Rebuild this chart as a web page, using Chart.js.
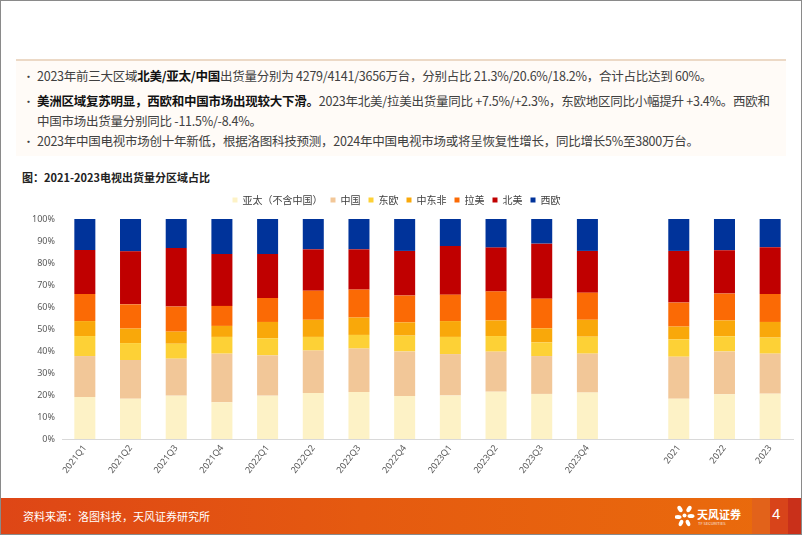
<!DOCTYPE html>
<html>
<head>
<meta charset="utf-8">
<script src="https://cdn.jsdelivr.net/npm/chart.js@4.4.1/dist/chart.umd.min.js"></script>
<style>
  html,body{margin:0;padding:0;}
  body{width:802px;height:535px;position:relative;overflow:hidden;background:#fff;font-family:"Noto Sans CJK SC","Noto Sans",sans-serif;}
  .frame{position:absolute;left:0;top:0;width:800px;height:533px;border:1px solid #8a8a8a;pointer-events:none;z-index:5;}
  .box{position:absolute;left:16px;top:59px;width:770px;height:95px;background:#fffbf7;border-top:2px solid #ecd9c6;}
  .ln{position:absolute;left:21px;white-space:nowrap;font-size:12.5px;color:#404040;letter-spacing:-0.25px;}
  .ln b{color:#111;font-weight:700;}
  .bul{position:absolute;left:7px;font-size:11px;color:#404040;}
  .title{position:absolute;left:22px;top:169px;font-size:11px;font-weight:700;color:#222;white-space:nowrap;}
  #wrap{position:absolute;left:0;top:185px;width:802px;height:305px;}
  .foot{position:absolute;left:0;top:498px;width:802px;height:37px;background:linear-gradient(90deg,#de4616 0%,#e55a10 45%,#ea6c0c 100%);}
  .foot .src{position:absolute;left:23px;top:10px;color:#fff;font-size:11px;white-space:nowrap;}
  .sq{position:absolute;top:0;height:37px;}
  .pg{position:absolute;left:772px;top:7px;color:#fff;font-size:15px;font-family:"Liberation Sans",sans-serif;}
  .logo{position:absolute;left:675px;top:7px;color:#fff;}
  .logo .cn{position:absolute;left:22px;top:1px;font-size:11px;font-weight:700;white-space:nowrap;}
  .logo .en{position:absolute;left:23px;top:15px;font-size:4px;white-space:nowrap;opacity:0.85;}
</style>
</head>
<body>
<div class="frame"></div>
<div class="box">
  <div class="bul" style="top:7px">•</div>
  <div class="ln" style="top:5px">2023年前三大区域<b>北美/亚太/中国</b>出货量分别为 4279/4141/3656万台，分别占比 21.3%/20.6%/18.2%，合计占比达到 60%。</div>
  <div class="bul" style="top:32px">•</div>
  <div class="ln" style="top:30px"><b>美洲区域复苏明显，西欧和中国市场出现较大下滑。</b>2023年北美/拉美出货量同比 +7.5%/+2.3%，东欧地区同比小幅提升 +3.4%。西欧和</div>
  <div class="ln" style="top:50px">中国市场出货量分别同比 -11.5%/-8.4%。</div>
  <div class="bul" style="top:72px">•</div>
  <div class="ln" style="top:70px">2023年中国电视市场创十年新低，根据洛图科技预测，2024年中国电视市场或将呈恢复性增长，同比增长5%至3800万台。</div>
</div>
<div class="title">图：2021-2023电视出货量分区域占比</div>
<div id="wrap"><canvas id="c"></canvas></div>
<div class="foot">
  <div class="src">资料来源：洛图科技，天风证券研究所</div>
  <div class="logo">
    <svg width="20" height="22" viewBox="0 0 20 22">
      <ellipse cx="5" cy="4" rx="2.2" ry="3.5" fill="#fff" transform="rotate(-30 5 4)"/>
      <ellipse cx="14" cy="4" rx="2.2" ry="3.5" fill="#fff" transform="rotate(30 14 4)"/>
      <ellipse cx="3" cy="12" rx="3.5" ry="2" fill="#fff"/>
      <ellipse cx="16" cy="11" rx="3.5" ry="2" fill="#fff"/>
      <ellipse cx="6" cy="18" rx="2" ry="3.3" fill="#fff" transform="rotate(25 6 18)"/>
      <ellipse cx="13" cy="18" rx="2" ry="3.3" fill="#fff" transform="rotate(-25 13 18)"/>
      <circle cx="9.5" cy="10.5" r="2" fill="#fff"/>
    </svg>
    <div class="cn">天风证券</div>
    <div class="en">TF SECURITIES</div>
  </div>
  <div class="sq" style="left:752px;width:18px;background:#e2621a;"></div>
  <div class="sq" style="left:770px;width:18px;background:#d8441a;"></div>
  <div class="sq" style="left:788px;width:14px;background:#c9301a;"></div>
  <div class="pg">4</div>
</div>
<script>
const categories = ['2021Q1','2021Q2','2021Q3','2021Q4','2022Q1','2022Q2','2022Q3','2022Q4','2023Q1','2023Q2','2023Q3','2023Q4','','2021','2022','2023'];
const seriesNames = ['亚太（不含中国）','中国','东欧','中东非','拉美','北美','西欧'];
const asiaPacific = [19.1,18.3,19.7,16.7,19.7,20.9,21.4,19.5,19.8,21.5,20.5,21.1,null,18.3,20.3,20.6];
const china       = [18.6,17.6,16.8,22.1,18.3,19.3,19.7,20.3,18.8,18.2,17.2,17.7,null,19.1,19.5,18.2];
const eastEurope  = [9.1,7.7,6.8,7.6,7.8,6.2,6.2,7.2,7.8,7.1,6.2,7.7,null,7.9,6.9,7.3];
const meAfrica    = [6.8,6.6,5.5,5.0,7.4,7.8,7.9,6.0,7.2,7.1,6.4,7.7,null,5.8,7.2,7.1];
const latinAm     = [12.3,11.0,11.4,9.1,10.9,13.2,12.7,12.2,12.0,13.2,13.5,12.3,null,10.9,12.2,12.7];
const northAm     = [20.0,24.1,26.6,23.6,20.0,18.8,18.3,20.3,22.1,19.9,25.0,19.0,null,23.5,19.7,21.3];
const westEurope  = [14.1,14.7,13.2,15.9,15.9,13.8,13.8,14.5,12.3,13.0,11.2,14.5,null,14.5,14.2,12.8];
const yTicks = [0,10,20,30,40,50,60,70,80,90,100];

const colors = ['#fdf2c6','#f2c798','#fdd136','#f9a80a','#fb6a05','#c00000','#00339a'];
const seriesValues = [asiaPacific,china,eastEurope,meAfrica,latinAm,northAm,westEurope];

const legendPad = {
  id:'legendPad',
  beforeInit(chart){
    const fit = chart.legend.fit;
    chart.legend.fit = function(){ fit.call(this); this.height += 4; };
  }
};

new Chart(document.getElementById('c'), {
  type:'bar',
  data:{
    labels:categories,
    datasets:seriesNames.map((n,i)=>({label:n,data:seriesValues[i],backgroundColor:colors[i],borderWidth:0,categoryPercentage:1,barPercentage:0.46}))
  },
  plugins:[legendPad],
  options:{
    responsive:true,maintainAspectRatio:false,animation:false,
    layout:{padding:{left:0,right:9,top:2,bottom:0}},
    plugins:{
      legend:{position:'top',labels:{boxWidth:5,boxHeight:5,padding:8,color:'#404040',font:{size:10,family:'"Noto Sans CJK SC",sans-serif'}}},
      tooltip:{enabled:false}
    },
    scales:{
      x:{stacked:true,grid:{display:false,drawTicks:false},border:{display:true,color:'#d9d9d9'},
         ticks:{color:'#595959',font:{size:9,family:'"Noto Sans",sans-serif'},minRotation:52,maxRotation:52,autoSkip:false,padding:4},
         afterFit(s){s.height=51;}},
      y:{stacked:true,min:0,max:100,grid:{display:false,drawTicks:false},border:{display:false},
         afterBuildTicks(s){s.ticks=yTicks.map(v=>({value:v}));},
         ticks:{color:'#595959',font:{size:9,family:'"Noto Sans",sans-serif'},padding:7,callback:v=>v+'%'},
         afterFit(s){s.width=62;}}
    }
  }
});
</script>
</body>
</html>
